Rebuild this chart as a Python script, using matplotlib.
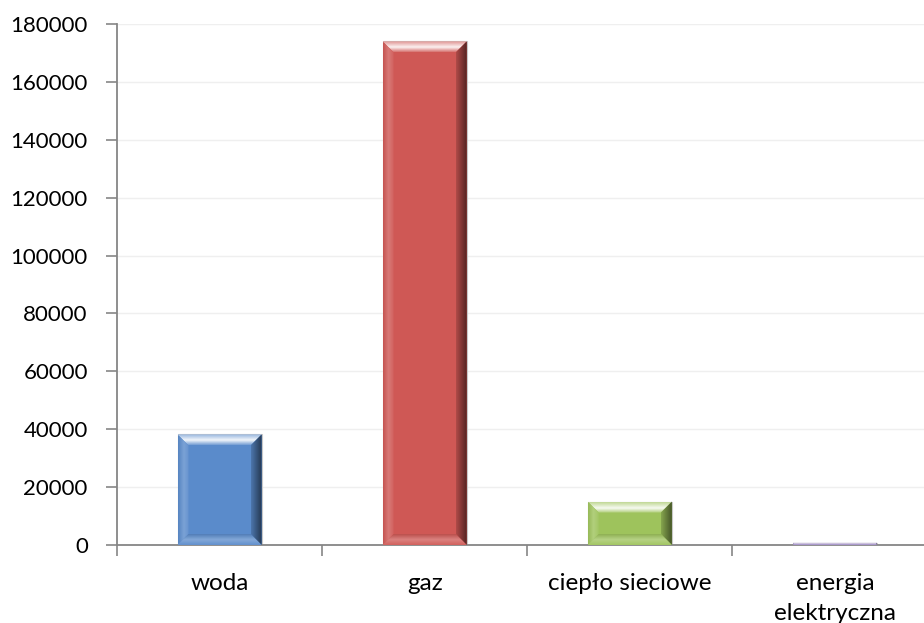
import numpy as np
import matplotlib
matplotlib.use("Agg")
import matplotlib.pyplot as plt
from matplotlib.colors import to_rgb
from matplotlib.patches import Polygon

categories = ["woda", "gaz", "ciepło sieciowe", "energia\nelektryczna"]
values = [38200, 174000, 15000, 800]
bar_colors = ["#5A8BCB", "#CF5855", "#9EC35C", "#9E8AC6"]
y_ticks = [0, 20000, 40000, 60000, 80000, 100000, 120000, 140000, 160000, 180000]

plt.rcParams["font.family"] = ["Lato", "DejaVu Sans"]

W, H, DPI = 924, 623, 100
fig = plt.figure(figsize=(W / DPI, H / DPI), dpi=DPI)
ax = fig.add_axes([117 / W, 1 - 545 / H, (937.5 - 117) / W, (545 - 24) / H])

x = np.arange(len(categories))
bars = ax.bar(x, values, width=0.41, color=bar_colors, edgecolor="#C8C8C8",
              linewidth=0.8, zorder=2)

ax.set_xlim(-0.5, len(categories) - 0.5)
ax.set_ylim(0, 180000)
ax.set_yticks(y_ticks)
ax.set_yticklabels([str(v) for v in y_ticks])
ax.yaxis.grid(True, color="#EFEFEF", linewidth=1.0, zorder=0)
ax.set_axisbelow(True)

ax.set_xticks(x)
ax.set_xticklabels(categories, linespacing=1.5)
ax.set_xticks(np.arange(-0.5, len(categories), 1.0), minor=True)
ax.tick_params(axis="x", which="major", length=0, pad=20.5, labelsize=17.5)
ax.tick_params(axis="x", which="minor", length=8, color="#868686", width=1.2)
ax.tick_params(axis="y", length=8, color="#868686", width=1.2, pad=13, labelsize=16)

for side in ("top", "right"):
    ax.spines[side].set_visible(False)
for side in ("left", "bottom"):
    ax.spines[side].set_color("#868686")
    ax.spines[side].set_linewidth(1.3)


def mix(c, target, t):
    c = np.array(to_rgb(c))
    target = np.array(to_rgb(target))
    return tuple(c * (1 - t) + target * t)


def gradient_face(poly_disp, stops, vertical, extent_disp):
    """Fill a polygon (display coords) with a linear gradient."""
    inv = ax.transData.inverted()
    poly_data = inv.transform(poly_disp)
    (x0, y0), (x1, y1) = inv.transform(extent_disp)
    n = 64
    t = np.linspace(0, 1, n)
    pos = np.array([s[0] for s in stops])
    cols = np.array([to_rgb(s[1]) for s in stops])
    img = np.stack([np.interp(t, pos, cols[:, k]) for k in range(3)], axis=-1)
    if vertical:
        img = img[:, None, :]  # top -> bottom
    else:
        img = img[None, :, :]  # left -> right
    im = ax.imshow(img, extent=(x0, x1, y0, y1), origin="upper",
                   aspect="auto", interpolation="bilinear", zorder=3)
    clip = Polygon(poly_data, closed=True, transform=ax.transData)
    im.set_clip_path(clip)


fig.canvas.draw()
for rect, col in zip(bars.patches, bar_colors):
    (l, b), (r, t) = ax.transData.transform(
        [(rect.get_x(), 0), (rect.get_x() + rect.get_width(), rect.get_height())])
    w, h = r - l, t - b
    bv = min(11.0, h / 2.0, w / 2.0)
    dark = mix(col, "black", 0.6)
    # top face
    gradient_face([(l, t), (r, t), (r - bv, t - bv), (l + bv, t - bv)],
                  [(0, mix(col, "white", 0.15)), (0.45, mix(col, "white", 0.92)),
                   (1, mix(col, "white", 0.35))],
                  True, [(l, t), (r, t - bv)])
    # right face
    gradient_face([(r, t), (r, b), (r - bv, b + bv), (r - bv, t - bv)],
                  [(0, mix(col, "black", 0.15)), (1, dark)],
                  False, [(r - bv, t), (r, b)])
    # left face
    gradient_face([(l, t), (l + bv, t - bv), (l + bv, b + bv), (l, b)],
                  [(0, mix(col, "black", 0.05)), (0.5, mix(col, "white", 0.2)),
                   (1, mix(col, "white", 0.05))],
                  False, [(l, t), (l + bv, b)])
    # bottom face
    gradient_face([(l, b), (l + bv, b + bv), (r - bv, b + bv), (r, b)],
                  [(0, mix(col, "white", 0.05)), (0.5, mix(col, "white", 0.25)),
                   (1, mix(col, "black", 0.1))],
                  True, [(l, b + bv), (r, b)])

ax.set_xlim(-0.5, len(categories) - 0.5)
ax.set_ylim(0, 180000)

fig.savefig("out.png", dpi=DPI)
